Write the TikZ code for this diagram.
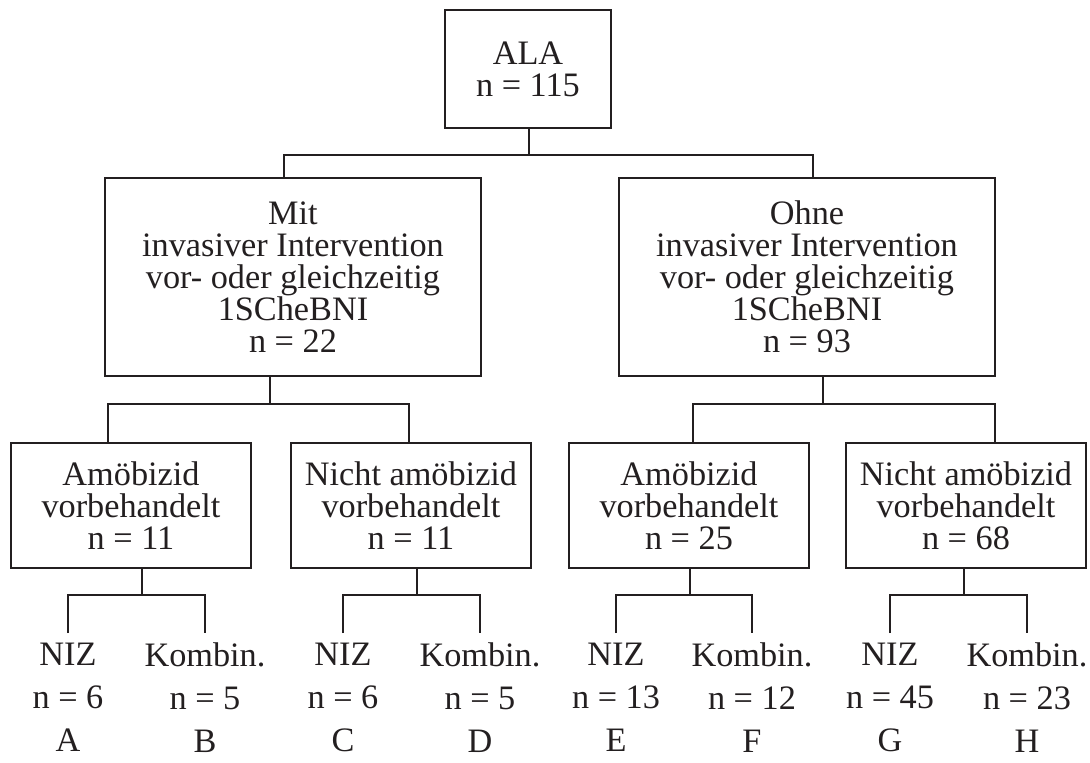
\documentclass[tikz,border=0pt]{standalone}
\usepackage{fontspec}
\setmainfont{Liberation Serif}
\usepackage{tikz}
\usepackage{xcolor}
\definecolor{ink}{HTML}{231F20}

\begin{document}
\begin{tikzpicture}[x=0.02cm,y=-0.02cm,line width=1.3pt,draw=ink,text=ink,
  box/.style={draw,line width=1.6pt,align=center,inner sep=0pt,font={\fontsize{19.5}{18.2}\selectfont}},
  leaf/.style={align=center,inner xsep=0pt,inner ysep=0.18cm,anchor=north,
    font={\fontsize{19.5}{24.4}\selectfont}}]
  \useasboundingbox (0,0) rectangle (1090,762);
  % top
  \node[box,minimum width=3.32cm,minimum height=2.36cm] (ala) at (528,69) {ALA\\n = 115};
  \node[box,minimum width=7.52cm,minimum height=3.96cm] (mit) at (293,277)
    {Mit\\invasiver Intervention\\vor- oder gleichzeitig\\1SCheBNI\\n = 22};
  \node[box,minimum width=7.52cm,minimum height=3.96cm] (ohne) at (807,277)
    {Ohne\\invasiver Intervention\\vor- oder gleichzeitig\\1SCheBNI\\n = 93};
  % second row
  \node[box,minimum width=4.8cm,minimum height=2.5cm] (amoebA) at (131,505.5) {Amöbizid\\vorbehandelt\\n = 11};
  \node[box,minimum width=4.8cm,minimum height=2.5cm] (nichtA) at (411,505.5) {Nicht amöbizid\\vorbehandelt\\n = 11};
  \node[box,minimum width=4.8cm,minimum height=2.5cm] (amoebB) at (689,505.5) {Amöbizid\\vorbehandelt\\n = 25};
  \node[box,minimum width=4.8cm,minimum height=2.5cm] (nichtB) at (966,505.5) {Nicht amöbizid\\vorbehandelt\\n = 68};
  % groups
  \node[leaf] (grpA) at (68,633)   {NIZ\\n = 6\\A};
  \node[leaf] (grpB) at (205,633)  {Kombin.\\n = 5\\B};
  \node[leaf] (grpC) at (343,633)  {NIZ\\n = 6\\C};
  \node[leaf] (grpD) at (480,633)  {Kombin.\\n = 5\\D};
  \node[leaf] (grpE) at (616,633)  {NIZ\\n = 13\\E};
  \node[leaf] (grpF) at (752,633)  {Kombin.\\n = 12\\F};
  \node[leaf] (grpG) at (890,633)  {NIZ\\n = 45\\G};
  \node[leaf] (grpH) at (1027,633) {Kombin.\\n = 23\\H};
  % forks
  \foreach \pa/\sx/\by/\ca/\xa/\cb/\xb in {ala/529/155/mit/284/ohne/813,
      mit/270/404/amoebA/108/nichtA/409, ohne/823/404/amoebB/693/nichtB/995,
      amoebA/142/595/grpA/68/grpB/205, nichtA/417/595/grpC/343/grpD/480,
      amoebB/690/595/grpE/616/grpF/752, nichtB/964/595/grpG/890/grpH/1027}{
    \draw (\sx,0 |- \pa.south) -- (\sx,\by);
    \draw (\xa,0 |- \ca.north) -- (\xa,\by) -- (\xb,\by) -- (\xb,0 |- \cb.north);
  }
\end{tikzpicture}
\end{document}
